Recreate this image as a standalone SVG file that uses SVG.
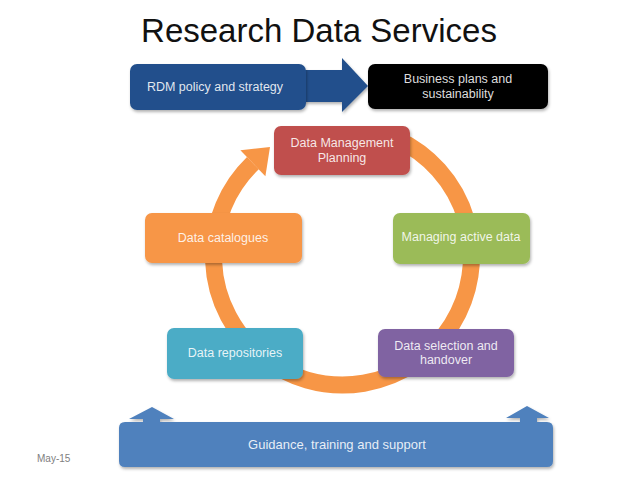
<svg xmlns="http://www.w3.org/2000/svg" width="638" height="479" viewBox="0 0 638 479">
<defs>
<filter id="sh" x="-10%" y="-10%" width="120%" height="140%">
<feDropShadow dx="1" dy="2" stdDeviation="1.5" flood-color="#000" flood-opacity="0.3"/>
</filter>
<style>
.t{font-family:"Liberation Sans",Arial,sans-serif;font-size:12.5px;text-anchor:middle;fill:#fff;fill-opacity:0.88}
.title{font-family:"Liberation Sans",Arial,sans-serif;font-size:33px;text-anchor:middle;fill:#111}
.box{filter:url(#sh)}
</style>
</defs>
<rect width="638" height="479" fill="#fff"/>
<text class="title" x="319" y="42">Research Data Services</text>
<g id="connectors">
<path d="M397,139.1 A129,129 0 1 1 252.9,163.2" fill="none" stroke="#F79646" stroke-width="17"/>
<polygon points="240.4,150.3 265.4,176.2 270,147" fill="#F79646"/>
<polygon class="box" points="300,70 342,70 342,58 368,86 342,112 342,102 300,102" fill="#22508C"/>
</g>
<g id="rdm">
<rect class="box" x="130" y="64" width="176" height="46" rx="7" fill="#22508C"/>
<text class="t" x="215" y="91">RDM policy and strategy</text>
</g>
<g id="business">
<rect class="box" x="368" y="64" width="180" height="45" rx="7" fill="#000"/>
<text class="t" x="458" y="83" fill-opacity="0.82">Business plans and</text>
<text class="t" x="458" y="98" fill-opacity="0.82">sustainability</text>
</g>
<g id="dmp">
<rect class="box" x="274" y="126" width="136" height="49" rx="7" fill="#C0504D"/>
<text class="t" x="342" y="147">Data Management</text>
<text class="t" x="342" y="162">Planning</text>
</g>
<g id="catalogues">
<rect class="box" x="145" y="213" width="157" height="50" rx="7" fill="#F79646"/>
<text class="t" x="223" y="242">Data catalogues</text>
</g>
<g id="active">
<rect class="box" x="393" y="213" width="137" height="51" rx="7" fill="#9BBB59"/>
<text class="t" x="461" y="241">Managing active data</text>
</g>
<g id="repositories">
<rect class="box" x="167" y="328" width="136" height="51" rx="7" fill="#4BACC6"/>
<text class="t" x="235" y="357">Data repositories</text>
</g>
<g id="selection">
<rect class="box" x="378" y="329" width="136" height="48" rx="7" fill="#8064A2"/>
<text class="t" x="446" y="350">Data selection and</text>
<text class="t" x="446" y="364">handover</text>
</g>
<g id="guidance">
<path class="box" d="M125,422 L143,422 L143,419 L129,419 L152,407 L174,419 L160,419 L160,422 L520,422 L520,418 L506,418 L527,406 L549,418 L537,418 L537,422 L547,422 Q553,422 553,428 L553,461 Q553,467 547,467 L125,467 Q119,467 119,461 L119,428 Q119,422 125,422 Z" fill="#4F81BD"/>
<text class="t" x="337" y="449" style="font-size:13px">Guidance, training and support</text>
</g>
<text x="37" y="462" style="font-family:'Liberation Sans',Arial,sans-serif;font-size:10px;fill:#808080">May-15</text>
</svg>
